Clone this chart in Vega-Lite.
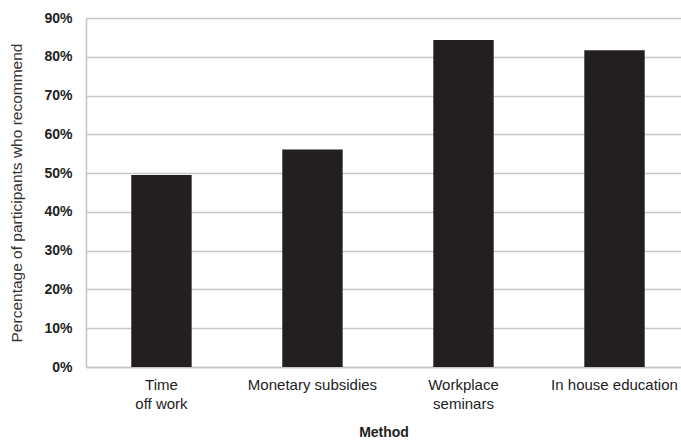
{
  "$schema": "https://vega.github.io/schema/vega-lite/v6.json",
  "autosize": {"type": "none"},
  "padding": {"left": 86, "top": 18, "right": 0, "bottom": 75},
  "width": 595,
  "height": 349,
  "background": "white",
  "config": {
    "view": {"stroke": null},
    "font": "Liberation Sans"
  },
  "data": {
    "values": [
      {"method": "Time|off work", "pct": 49.5},
      {"method": "Monetary subsidies", "pct": 56.1},
      {"method": "Workplace|seminars", "pct": 84.3},
      {"method": "In house education", "pct": 81.7}
    ]
  },
  "mark": {"type": "bar", "color": "#231f20"},
  "encoding": {
    "x": {
      "field": "method",
      "type": "nominal",
      "sort": null,
      "scale": {"paddingInner": 0.6, "paddingOuter": 0.27, "align": 0.555},
      "axis": {
        "title": "Method",
        "titleFontWeight": "bold",
        "titleFontSize": 14,
        "titleColor": "#222",
        "titlePadding": 14,
        "labelExpr": "split(datum.label, '|')",
        "labelAngle": 0,
        "labelFontSize": 15,
        "labelColor": "#222",
        "labelPadding": 10,
        "labelLineHeight": 19,
        "labelBaseline": "top",
        "ticks": false,
        "domainColor": "#c4c4c4",
        "domainWidth": 1.5
      }
    },
    "y": {
      "field": "pct",
      "type": "quantitative",
      "scale": {"domain": [0, 90], "nice": false},
      "axis": {
        "title": "Percentage of participants who recommend",
        "titleFontWeight": "normal",
        "titleFontSize": 15.5,
        "titleColor": "#333",
        "titlePadding": 19,
        "values": [0, 10, 20, 30, 40, 50, 60, 70, 80, 90],
        "labelExpr": "datum.value + '%'",
        "labelFontSize": 14,
        "labelFontWeight": "bold",
        "labelColor": "#222",
        "labelPadding": 14,
        "ticks": false,
        "grid": true,
        "gridColor": "#c8c8c8",
        "gridWidth": 1.5,
        "domainColor": "#c4c4c4",
        "domainWidth": 1.5
      }
    }
  }
}
